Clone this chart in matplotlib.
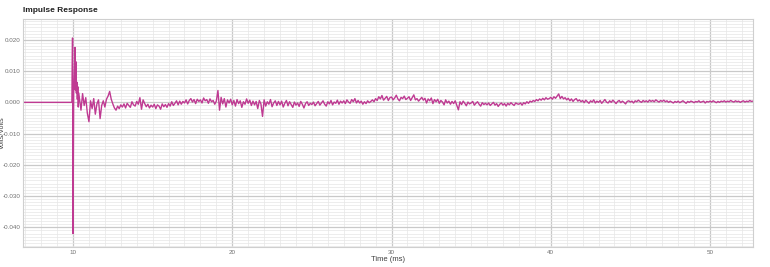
import numpy as np
import matplotlib.pyplot as plt
from matplotlib.ticker import MultipleLocator, FormatStrFormatter

plt.rcParams["font.family"] = ["Liberation Sans", "DejaVu Sans"]

# pre-trigger (flat) part, ms / V
pre_t = [6.0, 9.93]
pre_v = [0.0, 0.0]

# impulse onset, explicit times (ms) and values (mV)
spike_t = [9.97, 10.00, 10.04, 10.08, 10.12, 10.15, 10.18, 10.21, 10.24,
           10.27, 10.30, 10.33, 10.36]
spike_mv = [20.6, -42.0, 3.0, 9.0, 17.6, 4.0, 13.0, 3.0, 6.5,
            1.0, 5.0, -1.5, 3.0]

# tail, sampled every 0.1 ms starting at 10.4 ms (values in mV)
tail_t0 = 10.4
tail_dt = 0.1
tail_mv = [
    1.5, -2.5, 2.8, -1.0, 1.5, -3.5,
    -6.2, 0.5, -2.0, 1.2, -3.8, -0.5, 0.8, -5.2, -1.0, 0.5,
    -1.5, 1.0, 2.0, 3.5, 1.0, -0.5, -1.8, -2.5, -1.2, -2.0,
    -0.8, -1.5, -0.5, -1.8, -0.3, -1.0, -1.6, 0.2, -0.8, -1.2,
    0.3, -0.6, 1.5, -2.2, 0.8, -0.4, -1.4, -0.6, -1.8, -0.9,
    -1.5, -0.6, -2.0, -0.8, -1.2, -2.2, -0.5, -1.4, -0.7, -1.6,
    -0.4, -1.2, 0.2, -1.0, -0.3, 0.5, -0.8, 0.4, -0.6, 0.3,
    -0.2, 0.8, -0.5, 0.6, 1.2, 0.1, 0.9, -0.4, 1.0, 0.3,
    0.8, -0.2, 1.4, 0.5, 0.9, -0.3, 1.1, 0.2, 0.6, -0.6,
    0.4, 3.8, -2.5, 1.6, -0.5, 1.2, -1.5, 0.8, -0.2, 1.0,
    -0.8, 0.6, -1.2, 0.9, -0.4, 0.5, -1.6, 0.2, -0.6, 1.1,
    -0.3, 0.7, -1.0, 0.4, -0.8, 0.3, -2.0, 0.6, -0.5, -4.5,
    0.8, -1.2, 0.2, -0.6, 0.9, -1.4, -0.2, 0.5, -1.0, 0.3,
    -0.8, 0.4, -1.5, -0.3, 0.6, -1.1, 0.2, -0.7, -1.6, 0.1,
    -0.9, -0.2, -1.3, 0.3, -0.6, -1.8, -0.4, 0.2, -1.0, -0.3,
    -0.7, 0.1, -1.1, -0.4, 0.3, -0.9, -0.2, 0.5, -0.6, -1.2,
    0.2, -0.5, 0.6, -0.8, 0.1, -0.3, 0.7, -0.6, 0.4, -0.2,
    0.5, -0.4, 0.8, 0.1, -0.3, 0.9, 0.2, 1.2, -0.2, 0.6,
    -0.2, 0.4, -0.6, 0.2, -0.4, 0.5, -0.1, 0.3, 0.8, 0.2,
    1.2, 0.6, 1.8, 1.1, 2.2, 0.7, 1.3, 1.9, 0.6, 1.5,
    1.7, 0.8, 1.4, 2.3, 1.1, 0.5, 1.6, 1.2, 2.0, 0.9,
    1.3, 1.8, 0.6, 1.5, 2.4, 0.8, 1.2, 0.4, 1.0, 1.6,
    0.7, 1.3, -0.2, 1.1, 0.5, 1.4, -0.4, 0.9, 0.2, 1.0,
    -0.3, 0.6, 0.1, -0.8, 0.8, -0.2, 0.4, -0.6, 0.3, -0.4,
    0.5, -1.0, -2.4, 0.2, -0.7, 0.4, -0.3, -1.1, 0.1, -0.5,
    -0.2, 0.3, -0.9, -0.3, 0.2, -0.6, -1.2, -0.1, -0.7, -0.3,
    -0.8, -0.2, -1.0, -0.5, 0.0, -0.9, -0.4, -1.3, -0.6, -0.2,
    -0.9, -0.4, -1.2, -0.3, -0.8, -0.1, -0.6, -1.0, -0.2, -0.5,
    -0.6, -0.2, -0.9, -0.1, -0.5, 0.2, -0.3, 0.4, 0.1, 0.6,
    0.3, 0.9, 0.5, 1.1, 0.7, 1.3, 0.8, 1.5, 1.0, 1.2,
    1.6, 1.0, 1.8, 1.3, 2.0, 2.7, 1.2, 1.9, 1.1, 1.5,
    0.8, 1.3, 0.5, 1.1, 0.3, 0.9, 1.2, 0.4, 0.8, 0.2,
    0.6, -0.1, 0.7, 0.2, -0.3, 0.5, 0.1, 0.8, -0.2, 0.4,
    0.0, 0.6, -0.3, 0.3, 0.9, 0.1, -0.2, 0.5, 0.0, 0.7,
    0.2, -0.4, 0.3, 0.6, -0.1, 0.4, 0.0, -0.5, 0.3, 0.5,
    0.1, 0.4, -0.2, 0.5, 0.2, 0.7, 0.3, 0.0, 0.6, 0.2,
    0.5, 0.1, 0.7, 0.3, 0.6, 0.2, 0.8, 0.4, 0.1, 0.6,
    0.3, 0.7, 0.2, 0.5, 0.0, 0.4, 0.1, -0.2, 0.3, 0.0,
    0.4, -0.1, 0.2, 0.5, 0.1, -0.3, 0.3, 0.0, 0.4, 0.2,
    -0.1, 0.3, 0.1, 0.5, 0.0, 0.2, 0.4, -0.2, 0.3, 0.1,
    0.4, 0.1, 0.5, 0.2, -0.1, 0.3, 0.0, 0.4, 0.2, 0.5,
    0.1, 0.4, 0.2, 0.6, 0.3, 0.1, 0.5, 0.2, 0.4, 0.0,
    0.3, 0.5, 0.1, 0.4, 0.2, 0.6, 0.3, 0.4,
]

tail_t = tail_t0 + tail_dt * np.arange(len(tail_mv))
t_ms = np.concatenate([pre_t, spike_t, tail_t])
volts = np.concatenate([pre_v, np.array(spike_mv) * 1e-3, np.array(tail_mv) * 1e-3])

fig = plt.figure(figsize=(7.7, 2.67), dpi=100)
ax = fig.add_axes([0.0299, 0.075, 0.948, 0.854])

ax.plot(t_ms, volts, color="#bf3a92", lw=1.0)

ax.set_xlim(6.86, 52.7)
ax.set_ylim(-0.0463, 0.0267)
ax.xaxis.set_major_locator(MultipleLocator(10))
ax.xaxis.set_minor_locator(MultipleLocator(1))
ax.yaxis.set_major_locator(MultipleLocator(0.01))
ax.yaxis.set_minor_locator(MultipleLocator(0.001))
ax.yaxis.set_major_formatter(FormatStrFormatter("%.3f"))

ax.grid(which="major", color="#c9c9c9", lw=0.9)
ax.grid(which="minor", color="#e6e6e6", lw=0.5)
ax.set_axisbelow(True)
for s in ax.spines.values():
    s.set_color("#cfcfcf")
    s.set_linewidth(0.8)

ax.tick_params(which="both", length=0, labelsize=4.5, labelcolor="#707070", pad=2)
ax.set_xlabel("Time (ms)", fontsize=5.5, color="#404040", labelpad=1)
ax.set_ylabel("Volts/Volts", fontsize=5, color="#404040")
ax.yaxis.set_label_coords(-0.023, 0.5)
fig.text(23 / 770, 1 - 12 / 267, "Impulse Response", fontsize=6, fontweight="bold",
         color="#202020", va="baseline")

fig.savefig("out.png", dpi=100)
